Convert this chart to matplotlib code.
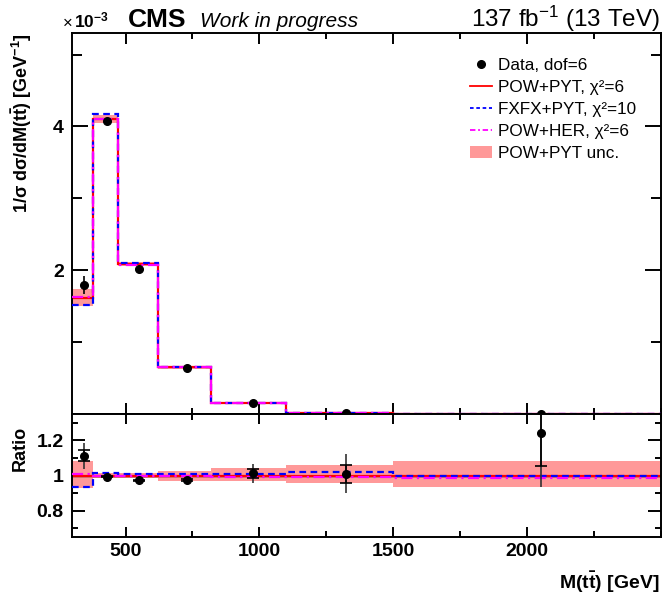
import numpy as np
import matplotlib
matplotlib.use("Agg")
import matplotlib.pyplot as plt
from matplotlib.ticker import FixedLocator, MultipleLocator
from matplotlib.lines import Line2D
from matplotlib.patches import Patch

plt.rcParams['font.family'] = ['Liberation Sans', 'DejaVu Sans']
plt.rcParams['mathtext.fontset'] = 'custom'
plt.rcParams['mathtext.rm'] = 'Liberation Sans'
plt.rcParams['mathtext.it'] = 'Liberation Sans:italic'
plt.rcParams['mathtext.bf'] = 'Liberation Sans:bold'

# binning and normalised cross sections (units of 1e-3 / GeV)
edges = np.array([300, 380, 470, 620, 820, 1100, 1500, 2500])
data_x = np.array([345, 430, 552, 730, 976, 1324, 2050])
data = np.array([1.796, 4.082, 2.024, 0.634, 0.156, 0.0202, 0.00373])
data_stat = np.array([0.050, 0.015, 0.008, 0.004, 0.004, 0.0010, 0.00057])
data_tot = np.array([0.120, 0.030, 0.015, 0.008, 0.0082, 0.0022, 0.00093])
pow_pyt = np.array([1.614, 4.107, 2.080, 0.650, 0.154, 0.0200, 0.00300])
fxfx_pyt = np.array([1.512, 4.169, 2.103, 0.657, 0.1557, 0.02042, 0.00300])
pow_her = np.array([1.627, 4.107, 2.076, 0.647, 0.1529, 0.01986, 0.00295])
# relative theory uncertainty of POW+PYT
unc_up = np.array([0.081, 0.013, 0.014, 0.028, 0.044, 0.058, 0.081])
unc_dn = np.array([0.070, 0.013, 0.013, 0.029, 0.032, 0.042, 0.064])

labels = ['Data, dof=6', 'POW+PYT, χ²=6', 'FXFX+PYT, χ²=10',
          'POW+HER, χ²=6', 'POW+PYT unc.']

band_col = '#ff9999'
lw = 1.6
ls_fx = (0, (3, 2))
ls_her = (0, (5, 2, 1, 2))

fig = plt.figure(figsize=(6.66, 6.0), dpi=100)
ax = fig.add_axes([72/666, 1-414/600, (661-72)/666, (414-33)/600])
rax = fig.add_axes([72/666, 1-537/600, (661-72)/666, (537-414)/600])

# ---- main panel
ax.stairs(pow_pyt*(1+unc_up), edges, baseline=pow_pyt*(1-unc_dn), fill=True,
          color=band_col, lw=0, zorder=1)
ax.stairs(pow_pyt, edges, baseline=None, color='#ff0000', lw=lw, zorder=2)
ax.stairs(fxfx_pyt, edges, baseline=None, color='#0000ff', lw=lw, ls=ls_fx, zorder=3)
ax.stairs(pow_her, edges, baseline=None, color='#ff00ff', lw=lw, ls=ls_her, zorder=4)
ax.errorbar(data_x, data, yerr=data_tot, fmt='o', color='black', ms=5.5,
            elinewidth=1.2, capsize=0, zorder=6)

ax.set_xlim(300, 2500)
ax.set_ylim(0, 5.3)
ax.yaxis.set_major_locator(FixedLocator([2, 4]))
ax.yaxis.set_minor_locator(FixedLocator([1, 3, 5]))
ax.xaxis.set_major_locator(FixedLocator([500, 1000, 1500, 2000]))
ax.xaxis.set_minor_locator(MultipleLocator(250))
ax.tick_params(axis='x', labelbottom=False)

# ---- ratio panel
rel = lambda v: v / pow_pyt
rax.stairs(1+unc_up, edges, baseline=1-unc_dn, fill=True, color=band_col, lw=0, zorder=1)
rax.axhline(1, color='black', lw=1.0, zorder=1.5)
rax.stairs(rel(pow_pyt), edges, baseline=None, color='#ff0000', lw=lw, zorder=2)
rax.stairs(rel(fxfx_pyt), edges, baseline=None, color='#0000ff', lw=lw, ls=ls_fx, zorder=3)
rax.stairs(rel(pow_her), edges, baseline=None, color='#ff00ff', lw=lw, ls=ls_her, zorder=4)
rax.errorbar(data_x, rel(data), yerr=rel(data_tot), fmt='none', ecolor='#333333',
             elinewidth=1.2, capsize=0, zorder=5)
rax.errorbar(data_x, rel(data), yerr=rel(data_stat), fmt='o', color='black', ms=5.5,
             elinewidth=1.2, capsize=4, capthick=1.2, zorder=6)

rax.set_xlim(300, 2500)
rax.set_ylim(0.65, 1.35)
rax.yaxis.set_major_locator(FixedLocator([0.8, 1.0, 1.2]))
rax.yaxis.set_minor_locator(FixedLocator([0.7, 0.9, 1.1, 1.3]))
rax.set_yticklabels(['0.8', '1', '1.2'])
rax.xaxis.set_major_locator(FixedLocator([500, 1000, 1500, 2000]))
rax.xaxis.set_minor_locator(MultipleLocator(250))

for a in (ax, rax):
    for s in a.spines.values():
        s.set_linewidth(1.4)
    a.tick_params(which='both', direction='in', top=True, right=True, width=1.4)
    a.tick_params(axis='both', labelsize=14, pad=6)
    for t in a.get_xticklabels() + a.get_yticklabels():
        t.set_fontweight('bold')
ax.tick_params(axis='x', which='major', length=8)
ax.tick_params(axis='x', which='minor', length=4.5)
ax.tick_params(axis='y', which='major', length=11.5)
ax.tick_params(axis='y', which='minor', length=7)
rax.tick_params(axis='x', which='major', length=7, pad=4)
rax.tick_params(axis='x', which='minor', length=4)
rax.tick_params(axis='y', which='major', length=9.5)
rax.tick_params(axis='y', which='minor', length=4.5)

# legend
handles = [
    Line2D([], [], marker='o', color='black', ls='none', ms=5.5),
    Line2D([], [], color='#ff0000', lw=1.3),
    Line2D([], [], color='#0000ff', lw=1.3, ls=(0, (2, 1.5))),
    Line2D([], [], color='#ff00ff', lw=1.3, ls=(0, (3, 1.5, 1, 1.5))),
    Patch(facecolor=band_col, edgecolor='none'),
]
ax.legend(handles, labels, loc='upper right', bbox_to_anchor=(0.975, 0.962),
          frameon=False, fontsize=12.3, handlelength=1.3, handletextpad=0.35,
          labelspacing=0.42, borderaxespad=0.2)

# labels and header
fig.text(22/666, 1-33/600, r'$\mathbf{1/\sigma\ d\sigma/dM(t\bar{t})\ [GeV^{-1}]}$',
         rotation=90, ha='center', va='top', fontsize=13)
fig.text(20/666, 1-448/600, 'Ratio', rotation=90, ha='center', va='center',
         fontsize=13, fontweight='bold')
fig.text(660/666, 1-582/600, r'$\mathbf{M(t\bar{t})\ [GeV]}$', ha='right', va='center',
         fontsize=14)
fig.text(62/666, 1-27/600, r'$\times$', ha='left', va='baseline', fontsize=12)
fig.text(74/666, 1-27/600, r'$\mathbf{10^{-3}}$', ha='left', va='baseline', fontsize=12.5)
fig.text(128/666, 1-27/600, 'CMS', ha='left', va='baseline', fontsize=19, fontweight='bold')
fig.text(200/666, 1-27/600, 'Work in progress', ha='left', va='baseline', fontsize=15,
         style='italic')
fig.text(660/666, 1-27/600, r'137 fb$^{-1}$ (13 TeV)', ha='right', va='baseline',
         fontsize=17.5)

fig.savefig('out.png', dpi=100)
